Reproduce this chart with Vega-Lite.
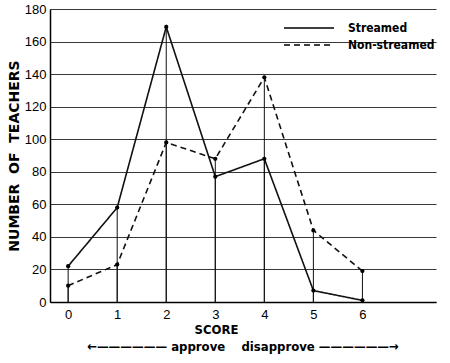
{
  "$schema": "https://vega.github.io/schema/vega-lite/v6.json",
  "width": 386,
  "height": 293,
  "autosize": {"type": "none"},
  "padding": {"left": 50, "top": 9, "right": 14, "bottom": 61},
  "background": "white",
  "config": {
    "view": {"stroke": null},
    "font": "Liberation Sans",
    "axis": {"labelColor": "black", "titleColor": "black", "domainColor": "black", "tickColor": "black"}
  },
  "title": {
    "text": "←——————  approve\u00a0\u00a0\u00a0\u00a0disapprove  ——————→",
    "orient": "bottom",
    "anchor": "middle",
    "font": "DejaVu Sans Condensed, Liberation Sans Narrow, Liberation Sans",
    "fontSize": 13,
    "fontWeight": "bold",
    "color": "black",
    "offset": 5
  },
  "data": {
    "values": [
      {"score": 0, "series": "Streamed", "count": 22},
      {"score": 1, "series": "Streamed", "count": 58},
      {"score": 2, "series": "Streamed", "count": 169},
      {"score": 3, "series": "Streamed", "count": 77},
      {"score": 4, "series": "Streamed", "count": 88},
      {"score": 5, "series": "Streamed", "count": 7},
      {"score": 6, "series": "Streamed", "count": 1},
      {"score": 0, "series": "Non-streamed", "count": 10},
      {"score": 1, "series": "Non-streamed", "count": 23},
      {"score": 2, "series": "Non-streamed", "count": 98},
      {"score": 3, "series": "Non-streamed", "count": 88},
      {"score": 4, "series": "Non-streamed", "count": 138},
      {"score": 5, "series": "Non-streamed", "count": 44},
      {"score": 6, "series": "Non-streamed", "count": 19}
    ]
  },
  "encoding": {
    "x": {
      "field": "score",
      "type": "quantitative",
      "scale": {"domain": [-0.37, 7.5], "nice": false, "zero": false},
      "axis": {
        "values": [0, 1, 2, 3, 4, 5, 6],
        "grid": false,
        "ticks": false,
        "labelFontSize": 13,
        "labelPadding": 6,
        "domainWidth": 1.5,
        "title": "SCORE",
        "titleFont": "DejaVu Sans Condensed, Liberation Sans Narrow, Liberation Sans",
        "titleFontSize": 13,
        "titleFontWeight": "bold",
        "titleX": 166,
        "titlePadding": 2
      }
    },
    "y": {
      "field": "count",
      "type": "quantitative",
      "scale": {"domain": [0, 180], "nice": false},
      "axis": {
        "values": [0, 20, 40, 60, 80, 100, 120, 140, 160, 180],
        "labelOverlap": false,
        "grid": true,
        "gridColor": "#222",
        "gridWidth": 0.9,
        "ticks": false,
        "labelFontSize": 13,
        "labelPadding": 4,
        "domainWidth": 1.5,
        "title": "NUMBER\u00a0\u00a0OF\u00a0\u00a0TEACHERS",
        "titleFont": "DejaVu Sans, Liberation Sans",
        "titleFontSize": 14,
        "titleFontWeight": "bold",
        "titlePadding": 3
      }
    }
  },
  "layer": [
    {
      "mark": {"type": "rule", "color": "#111", "strokeWidth": 1},
      "encoding": {
        "y2": {"datum": 0}
      }
    },
    {
      "mark": {"type": "line", "color": "#111", "strokeWidth": 1.6},
      "encoding": {
        "strokeDash": {
          "field": "series",
          "type": "nominal",
          "scale": {"domain": ["Streamed", "Non-streamed"], "range": [[1, 0], [6, 4]]},
          "legend": {
            "title": null,
            "orient": "none",
            "legendX": 248,
            "legendY": 8,
            "padding": 0,
            "symbolType": "M-2.5,0H2.5",
            "symbolSize": 400,
            "symbolStrokeColor": "black",
            "symbolStrokeWidth": 1.6,
            "labelOffset": 28,
            "labelFont": "DejaVu Sans Condensed, Liberation Sans Narrow, Liberation Sans",
            "labelFontSize": 12,
            "labelFontWeight": "bold",
            "labelColor": "black",
            "rowPadding": 0
          }
        }
      }
    },
    {
      "mark": {"type": "point", "filled": true, "color": "black", "size": 18, "opacity": 1},
      "encoding": {
        "detail": {"field": "series"}
      }
    }
  ]
}
